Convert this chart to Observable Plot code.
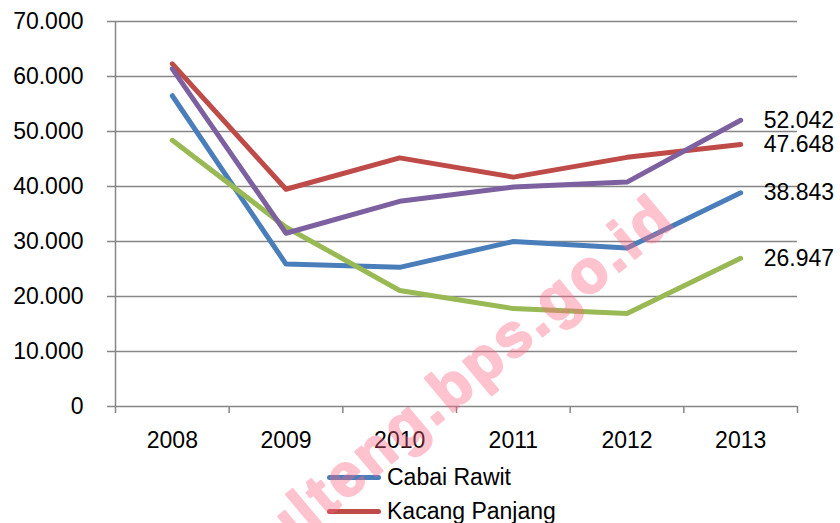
<!DOCTYPE html>
<html>
<head>
<meta charset="utf-8">
<script src="https://cdn.jsdelivr.net/npm/d3@7"></script>
<script src="https://cdn.jsdelivr.net/npm/@observablehq/plot@0.6"></script>
<style>
  html, body { margin: 0; padding: 0; background: #fff; }
  body { width: 840px; height: 523px; overflow: hidden; position: relative; font-family: "Liberation Sans", Arial, sans-serif; }
  #chart svg { display: block; }
  #legend { position: absolute; left: 327px; top: 460px; }
  .item { display: flex; align-items: center; height: 34px; font-size: 23px; color: #000; }
  .sw { width: 54px; height: 5px; border-radius: 3px; margin-right: 6px; }
  #wm { position: absolute; left: 0; top: 0; pointer-events: none; }
</style>
</head>
<body>
<div id="chart"></div>
<div id="legend"></div>
<svg id="wm" width="840" height="523"></svg>
<script>
const years = [2008, 2009, 2010, 2011, 2012, 2013];
const seriesNames = ["Cabai Rawit", "Kacang Panjang", "Bayam", "Kangkung"];
const seriesColors = ["#4A7EBB", "#BE4B48", "#98B954", "#7D60A0"];
const cabaiRawit = [56500, 25900, 25300, 30000, 28800, 38843];
const kacangPanjang = [62300, 39500, 45200, 41700, 45300, 47648];
const bayam = [48400, 32600, 21100, 17800, 16900, 26947];
const kangkung = [61400, 31500, 37300, 39900, 40800, 52042];
const yTicks = [0, 10000, 20000, 30000, 40000, 50000, 60000, 70000];
const watermark = "sulteng.bps.go.id";

const seriesValues = [cabaiRawit, kacangPanjang, bayam, kangkung];
const data = [];
seriesNames.forEach((name, i) => years.forEach((yr, j) => data.push({series: name, year: yr, value: seriesValues[i][j]})));
const lastPoints = data.filter(d => d.year === years[years.length - 1]);

const loc = d3.formatLocale({decimal: ",", thousands: ".", grouping: [3], currency: ["", ""]});
const fmt = loc.format(",d");
const boundaries = d3.range(years[0] - 0.5, years[years.length - 1] + 1, 1);
const gray = "#868686";

const plot = Plot.plot({
  width: 840,
  height: 455,
  marginLeft: 115,
  marginRight: 43,
  marginTop: 21,
  marginBottom: 49,
  style: {fontFamily: "'Liberation Sans', Arial, sans-serif", fontSize: "23px", color: "#000", background: "#fff"},
  x: {domain: [years[0] - 0.5, years[years.length - 1] + 0.5]},
  y: {domain: [0, 70000]},
  color: {domain: seriesNames, range: seriesColors},
  marks: [
    Plot.gridY({ticks: yTicks.filter(t => t > 0), stroke: gray, strokeOpacity: 1, strokeWidth: 1.5}),
    Plot.ruleY([0], {stroke: gray, strokeWidth: 1.5}),
    Plot.ruleX([boundaries[0]], {stroke: gray, strokeWidth: 1.5}),
    Plot.axisY({ticks: yTicks, tickSize: 8, tickPadding: 24, tickFormat: fmt, stroke: gray, strokeWidth: 1.5, fill: "#000", label: null}),
    Plot.axisX({ticks: boundaries, tickSize: 7, tickFormat: () => "", stroke: gray, strokeWidth: 1.5, label: null}),
    Plot.axisX({ticks: years, tickSize: 0, tickPadding: 25, tickFormat: d => String(d), fill: "#000", label: null}),
    Plot.lineY(data, {x: "year", y: "value", z: "series", stroke: "series", strokeWidth: 5, strokeLinecap: "round", strokeLinejoin: "round"}),
    Plot.text(lastPoints, {x: "year", y: "value", text: d => fmt(d.value), dx: 23, textAnchor: "start", fill: "#000", fontSize: 23})
  ]
});
document.getElementById("chart").appendChild(plot);

const legend = document.getElementById("legend");
seriesNames.forEach((name, i) => {
  const row = document.createElement("div");
  row.className = "item";
  const sw = document.createElement("div");
  sw.className = "sw";
  sw.style.background = seriesColors[i];
  const lab = document.createElement("span");
  lab.textContent = name;
  row.appendChild(sw);
  row.appendChild(lab);
  legend.appendChild(row);
});

const wm = d3.select("#wm").append("g").attr("opacity", 0.38);
wm.append("text")
  .attr("x", 252).attr("y", 580)
  .attr("transform", "rotate(-40 252 580)")
  .attr("text-anchor", "start")
  .attr("font-family", "'Liberation Sans', Arial, sans-serif")
  .attr("font-weight", "bold")
  .attr("font-size", 60)
  .attr("letter-spacing", 3.5)
  .attr("fill", "rgb(255,100,130)")
  .attr("stroke", "rgb(255,100,130)")
  .attr("stroke-width", 2.5)
  .attr("stroke-linejoin", "round")
  .text(watermark);
</script>
</body>
</html>
